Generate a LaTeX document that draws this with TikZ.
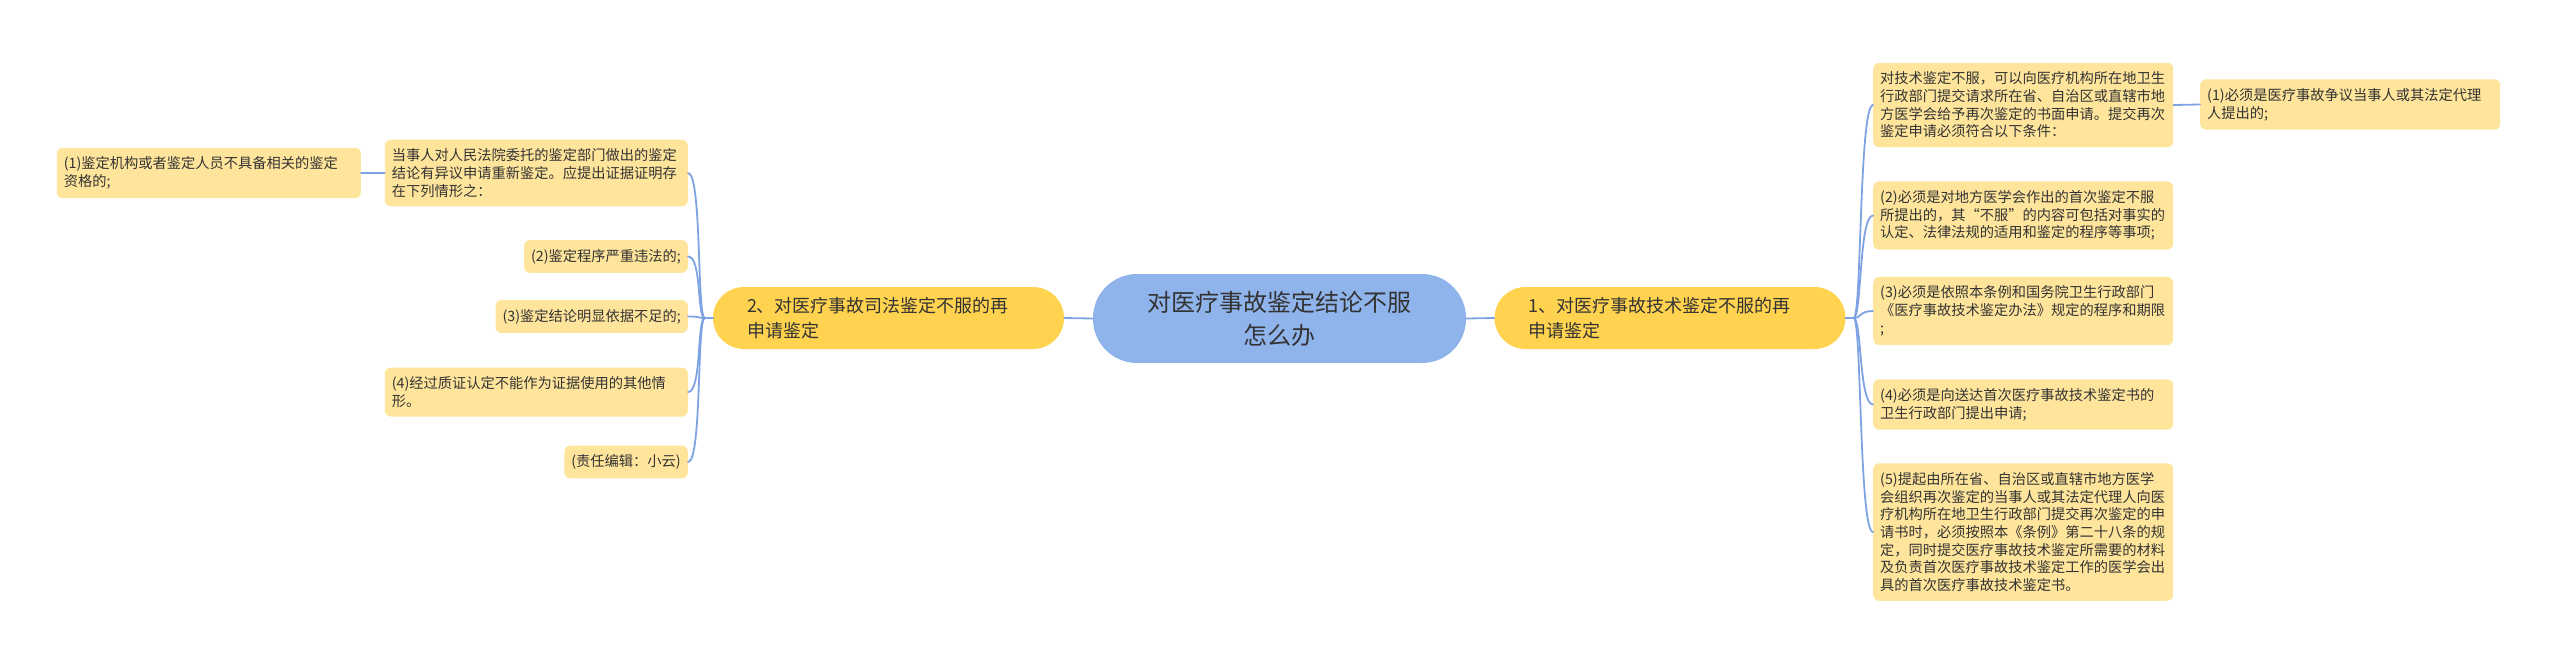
\documentclass[tikz,border=0pt]{standalone}
\usepackage{fontspec}
\setmainfont{Noto Sans CJK SC}
\definecolor{rootblue}{HTML}{8FB3EB}
\definecolor{branchyel}{HTML}{FFD34F}
\definecolor{leafyel}{HTML}{FFE59C}
\definecolor{linkblue}{HTML}{7FA3E2}
\definecolor{txtgray}{HTML}{333333}
\begin{document}
\begin{tikzpicture}[x=1pt,y=-1pt,line join=round,line cap=round]
	\tikzset{root/.style={fill=rootblue,rounded corners=44pt,minimum width=373pt,minimum height=89pt,align=center,text=txtgray,font=\fontsize{24}{33}\selectfont},
		branch/.style={fill=branchyel,rounded corners=31pt,minimum height=62pt,inner xsep=34pt,text width=283pt,align=left,text=txtgray,font=\fontsize{18}{24.5}\selectfont},
		leaf/.style={fill=leafyel,rounded corners=6pt,inner xsep=7pt,inner ysep=9pt,align=left,text=txtgray,font=\fontsize{14.25}{17.7}\selectfont},
		wideleaf/.style={leaf,text width=#1},
		link/.style={draw=linkblue,line width=1.8pt}}
	\useasboundingbox (0,0) rectangle (2560,665);
	\node[root] (root) at (1279.5,318.5) {对医疗事故鉴定结论不服\\怎么办};
	\node[branch] (lb) at (888.5,318) {2、对医疗事故司法鉴定不服的再\\申请鉴定};
	\node[branch] (rb) at (1670,318) {1、对医疗事故技术鉴定不服的再\\申请鉴定};
	\node[wideleaf=289pt,anchor=east] (l0) at (688,173) {当事人对人民法院委托的鉴定部门做出的鉴定\\结论有异议申请重新鉴定。应提出证据证明存\\在下列情形之：};
	\node[wideleaf=290pt,anchor=east] (l1) at (361,173) {(1)鉴定机构或者鉴定人员不具备相关的鉴定\\资格的;};
	\node[leaf,anchor=east] (l2) at (688,256.5) {(2)鉴定程序严重违法的;};
	\node[leaf,anchor=east] (l3) at (688,316.5) {(3)鉴定结论明显依据不足的;};
	\node[wideleaf=289pt,anchor=east] (l4) at (688,392) {(4)经过质证认定不能作为证据使用的其他情\\形。};
	\node[leaf,anchor=east] (l5) at (688,462) {(责任编辑：小云)};
	\node[wideleaf=286pt,anchor=west] (r0) at (1873,105) {对技术鉴定不服，可以向医疗机构所在地卫生\\行政部门提交请求所在省、自治区或直辖市地\\方医学会给予再次鉴定的书面申请。提交再次\\鉴定申请必须符合以下条件：};
	\node[wideleaf=286pt,anchor=west] (r1) at (2200,104.5) {(1)必须是医疗事故争议当事人或其法定代理\\人提出的;};
	\node[wideleaf=286pt,anchor=west] (r2) at (1873,215.5) {(2)必须是对地方医学会作出的首次鉴定不服\\所提出的，其“不服”的内容可包括对事实的\\认定、法律法规的适用和鉴定的程序等事项;};
	\node[wideleaf=286pt,anchor=west] (r3) at (1873,311) {(3)必须是依照本条例和国务院卫生行政部门\\《医疗事故技术鉴定办法》规定的程序和期限\\;};
	\node[wideleaf=286pt,anchor=west] (r4) at (1873,404.5) {(4)必须是向送达首次医疗事故技术鉴定书的\\卫生行政部门提出申请;};
	\node[wideleaf=286pt,anchor=west] (r5) at (1873,532) {(5)提起由所在省、自治区或直辖市地方医学\\会组织再次鉴定的当事人或其法定代理人向医\\疗机构所在地卫生行政部门提交再次鉴定的申\\请书时，必须按照本《条例》第二十八条的规\\定，同时提交医疗事故技术鉴定所需要的材料\\及负责首次医疗事故技术鉴定工作的医学会出\\具的首次医疗事故技术鉴定书。};
	\draw[link] (root.west)--(lb.east);
	\draw[link] (root.east)--(rb.west);
	\foreach \n in {l0,l2,l3,l4,l5}
	\draw[link] (lb.west)--++(-8,0) .. controls +(-8,0) and +(14,0) .. (\n.east);
	\foreach \n in {r0,r2,r3,r4,r5}
	\draw[link] (rb.east)--++(8,0) .. controls +(8,0) and +(-14,0) .. (\n.west);
	\draw[link] (l0.west)--(l1.east);
	\draw[link] (r0.east)--(r1.west);
\end{tikzpicture}
\end{document}
